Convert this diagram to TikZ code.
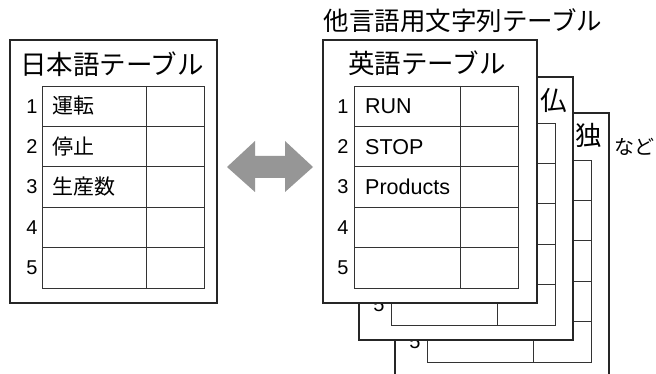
\documentclass[tikz,border=0pt]{standalone}
\usepackage{fontspec}
\setmainfont{Noto Sans CJK JP}
\newfontfamily\latinf{Liberation Sans}
\definecolor{arrgray}{RGB}{150,150,150}
\newcommand{\mygrid}[3]{%
  \draw[grid] (#1,#2) rectangle ++(#3,202);
  \draw[grid] (#1+#3-58,#2) -- ++(0,202);
  \foreach \k in {1,...,4} \draw[grid] (#1,#2+40.4*\k) -- ++(#3,0);
}
\begin{document}
\begin{tikzpicture}[x=1pt,y=-1pt,
  outer/.style={draw=black!85, line width=1.2pt, fill=white},
  grid/.style={draw=black!80, line width=0.9pt},
  ttl/.style={font=\fontsize{26.5}{26.5}\selectfont, inner sep=0},
  num/.style={font=\latinf\fontsize{20}{20}\selectfont, inner sep=0},
  cell/.style={font=\fontsize{21}{21}\selectfont, inner sep=0, anchor=west},
  lat/.style={font=\latinf\fontsize{21.5}{21.5}\selectfont, inner sep=0, anchor=west}]
\clip (0,0) rectangle (656,374);
\fill[white] (0,0) rectangle (656,374);

% ---------- left: Japanese table ----------
\path[outer] (10,40) rectangle (217,303);
\node[ttl] (jtitle) at (112,64) {日本語テーブル};
\mygrid{42}{86}{162}
\foreach \i in {1,...,5} \node[num] (jn\i) at (32,{86+40.4*(\i-0.5)}) {\i};
\node[cell] (j1) at (52,106) {運転};
\node[cell] (j2) at (52,147) {停止};
\node[cell] (j3) at (52,187) {生産数};

% ---------- arrow ----------
\fill[arrgray] (227,167) -- (255,141) -- (255,156) -- (285,156) -- (285,141)
  -- (313,167) -- (285,192) -- (285,178) -- (255,178) -- (255,192) -- cycle;

% ---------- right: stack ----------
\node[ttl, font=\fontsize{25.5}{25.5}\selectfont] (otitle) at (463,21) {他言語用文字列テーブル};

% German
\path[outer] (395,113) rectangle (609,380);
\node[ttl] (de) at (589,135) {独};
\mygrid{427}{160}{164}
\node[num] (de5) at (415,{160+40.4*4.5}) {5};
\node[font=\fontsize{20}{20}\selectfont, inner sep=0] (nado) at (634,147) {など};

% French
\path[outer] (359,77) rectangle (573,340);
\node[ttl] (fr) at (554,101) {仏};
\mygrid{391}{123}{164}
\node[num] (fr5) at (379,{123+40.4*4.5}) {5};

% English
\path[outer] (323,40) rectangle (537,303);
\node[ttl] (etitle) at (427,63) {英語テーブル};
\mygrid{354}{86}{164}
\foreach \i in {1,...,5} \node[num] (en\i) at (343,{86+40.4*(\i-0.5)}) {\i};
\node[lat] (e1) at (365,106) {RUN};
\node[lat] (e2) at (365,147) {STOP};
\node[lat] (e3) at (365,187) {Products};
\end{tikzpicture}
\end{document}
